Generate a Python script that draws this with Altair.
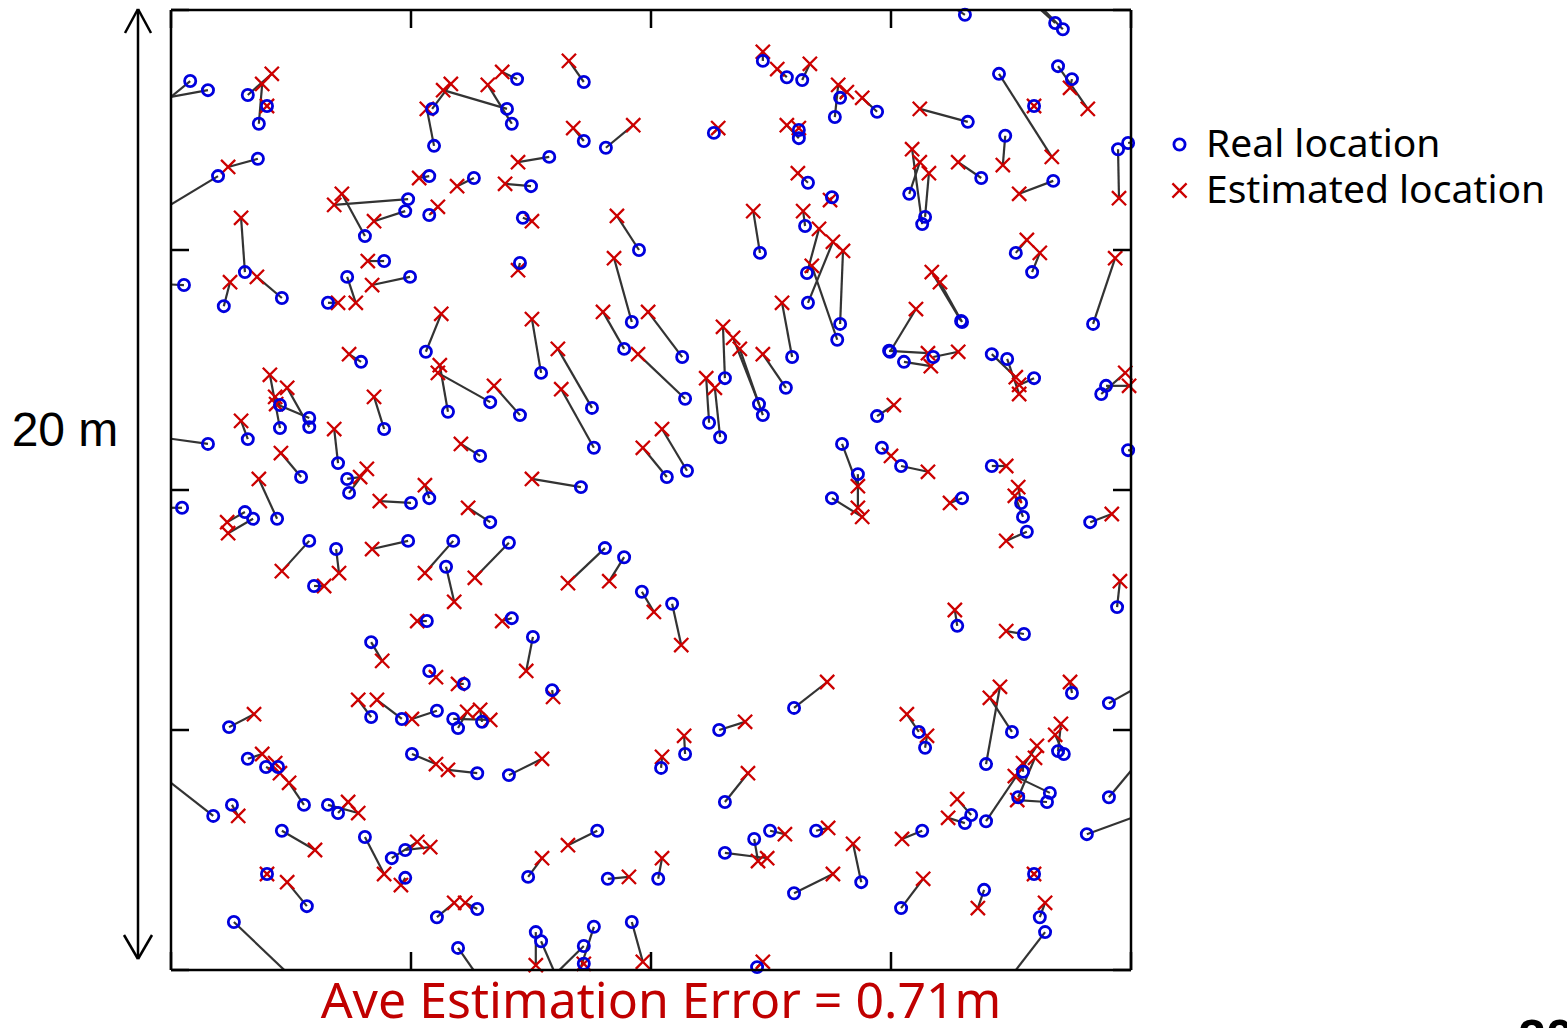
import altair as alt
import pandas as pd

# ---- data (metres, 20 m x 20 m area) ----
real_x = [0.40, 0.77, 1.60, 1.83, 2.00, 1.81, 0.98, 1.54, 1.10, 2.31,
          0.27, 4.94, 4.04, 4.88, 5.44, 5.48, 7.00, 7.10, 5.38, 6.31,
          5.38, 4.44, 3.67, 4.98, 3.27, 5.31, 7.21, 8.60, 8.60, 9.06,
          7.88, 7.50, 7.33, 7.27, 9.75, 9.60, 7.71, 9.44, 10.65, 11.31,
          12.33, 12.83, 13.15, 13.08, 13.08, 13.27, 13.21, 12.27, 16.54, 18.42,
          18.58, 18.48, 18.77, 17.25, 17.98, 16.60, 17.38, 16.88, 18.38, 19.73,
          19.94, 13.83, 13.94, 14.71, 15.65, 15.38, 15.71, 13.77, 13.25, 13.27,
          13.94, 13.88, 17.60, 17.94, 19.21, 16.46, 16.48, 14.98, 14.96, 15.27,
          15.88, 17.10, 17.42, 17.98, 19.38, 19.48, 14.71, 13.98, 14.31, 13.77,
          14.81, 15.21, 17.10, 17.71, 17.75, 17.83, 16.48, 19.15, 19.94, 19.71,
          16.38, 17.77, 0.77, 0.23, 3.96, 2.27, 2.88, 2.27, 2.88, 1.60,
          2.71, 2.21, 1.54, 1.71, 3.48, 4.44, 3.67, 3.71, 5.00, 5.38,
          5.77, 6.65, 7.27, 6.44, 6.65, 2.88, 3.44, 2.98, 4.94, 5.88,
          5.73, 7.04, 5.33, 4.17, 8.77, 8.81, 10.71, 8.54, 10.75, 10.33,
          11.54, 11.21, 11.44, 12.25, 12.33, 12.81, 12.94, 9.04, 9.44, 9.81,
          10.44, 7.10, 7.54, 5.38, 6.10, 4.17, 4.81, 5.54, 5.88, 5.98,
          6.48, 1.21, 1.60, 1.98, 2.23, 2.77, 0.88, 1.27, 2.31, 3.27,
          3.48, 5.02, 6.38, 4.04, 4.60, 4.88, 4.88, 2.00, 2.83, 1.31,
          5.54, 6.38, 5.98, 7.94, 7.04, 11.42, 10.71, 10.21, 11.54, 12.98,
          8.88, 7.44, 9.10, 10.15, 12.15, 11.54, 12.48, 13.44, 12.98, 7.60,
          7.71, 8.60, 8.81, 8.60, 9.60, 12.21, 15.58, 15.71, 17.52, 16.98,
          18.77, 19.54, 18.48, 18.60, 16.98, 17.75, 18.31, 18.25, 17.65, 16.67,
          16.54, 19.54, 19.08, 15.65, 14.38, 15.21, 17.98, 16.94, 18.10, 18.21]

real_y = [18.52, 18.33, 18.23, 17.63, 18.00, 16.90, 16.54, 14.54, 13.83, 14.00,
          14.27, 16.06, 15.29, 15.81, 17.94, 17.17, 17.94, 17.63, 16.54, 16.50,
          15.73, 14.77, 14.44, 14.44, 13.90, 12.88, 18.56, 18.50, 17.27, 17.13,
          16.94, 16.33, 15.67, 14.73, 15.00, 13.50, 12.44, 12.94, 12.77, 17.44,
          18.94, 18.60, 18.54, 17.50, 17.33, 16.40, 15.50, 14.94, 19.90, 19.73,
          19.60, 18.83, 18.56, 18.67, 18.00, 17.67, 17.38, 16.50, 16.44, 17.10,
          17.23, 17.77, 18.17, 17.88, 15.54, 16.17, 15.69, 16.10, 14.52, 13.90,
          13.46, 13.13, 14.94, 14.54, 13.46, 13.52, 13.50, 12.88, 12.90, 12.67,
          12.77, 12.83, 12.73, 12.33, 12.00, 12.17, 11.54, 10.96, 10.33, 9.83,
          10.88, 10.50, 10.50, 9.73, 9.44, 9.13, 9.83, 9.33, 10.83, 7.56,
          7.17, 7.00, 10.96, 9.63, 12.67, 11.29, 11.50, 11.77, 11.31, 11.06,
          10.27, 9.40, 9.54, 9.40, 10.56, 11.27, 10.23, 9.94, 9.73, 9.83,
          11.63, 11.83, 11.56, 10.71, 9.33, 8.94, 8.77, 8.00, 8.94, 8.94,
          8.40, 8.90, 7.27, 6.83, 11.71, 10.88, 11.90, 10.06, 10.40, 10.27,
          12.33, 11.40, 11.10, 11.79, 11.56, 12.13, 12.77, 8.79, 8.60, 7.88,
          7.63, 7.33, 6.94, 6.23, 5.96, 5.27, 5.23, 5.40, 5.23, 5.04,
          5.17, 5.06, 4.40, 4.23, 4.23, 3.44, 3.21, 3.44, 2.90, 3.44,
          3.27, 4.50, 4.10, 2.77, 2.33, 2.50, 1.92, 2.00, 1.33, 1.00,
          1.10, 1.27, 0.46, 5.83, 4.06, 5.00, 4.50, 4.21, 3.50, 5.46,
          2.90, 1.94, 1.90, 1.90, 2.73, 2.44, 2.90, 2.90, 1.60, 0.79,
          0.60, 0.50, 0.90, 0.13, 1.00, 0.06, 4.96, 4.63, 4.96, 4.29,
          5.77, 5.56, 4.56, 4.50, 3.10, 4.13, 3.69, 3.50, 3.60, 3.23,
          3.06, 3.60, 2.83, 2.90, 1.83, 1.29, 2.00, 1.67, 1.10, 0.79]

est_x = [-0.23, -0.23, 2.10, 1.90, 2.00, 1.19, -0.23, 1.46, 1.23, 1.79,
         -0.23, 3.40, 3.56, 4.23, 5.83, 5.33, 5.67, 6.60, 5.17, 5.96,
         5.56, 4.10, 3.85, 4.19, 3.48, 5.63, 6.90, 8.29, 8.38, 9.63,
         7.23, 6.96, 7.52, 7.23, 9.29, 9.23, 7.52, 9.00, 9.94, 11.40,
         12.33, 12.63, 13.31, 13.08, 12.83, 13.06, 13.17, 12.13, 16.13, 17.85,
         17.96, 19.10, 18.73, 18.35, 17.98, 15.60, 17.33, 16.40, 17.67, 19.75,
         20.23, 13.90, 14.08, 14.40, 15.44, 15.60, 15.79, 13.73, 13.50, 13.79,
         14.00, 13.35, 17.83, 18.10, 19.67, 15.85, 16.02, 15.52, 15.77, 15.83,
         16.40, 17.60, 17.67, 17.67, 19.88, 19.96, 15.06, 14.31, 14.31, 14.40,
         15.00, 15.77, 17.40, 17.65, 17.58, 17.40, 16.23, 19.60, 20.23, 19.77,
         16.33, 17.40, -0.23, -0.23, 3.71, 2.06, 2.19, 2.17, 2.42, 1.46,
         2.29, 1.83, 1.17, 1.19, 3.40, 4.23, 3.94, 4.08, 4.35, 5.29,
         5.60, 5.56, 6.73, 6.04, 6.19, 2.31, 3.50, 3.19, 4.19, 5.29,
         5.90, 6.33, 5.13, 4.40, 8.06, 8.13, 9.73, 7.52, 10.23, 9.83,
         11.50, 11.15, 11.33, 11.71, 11.85, 12.33, 12.73, 8.27, 9.13, 10.06,
         10.63, 6.90, 7.40, 5.52, 5.98, 3.90, 4.29, 5.02, 6.65, 6.17,
         6.44, 1.73, 1.90, 2.27, 2.17, 2.46, -0.23, 1.40, 3.00, 3.90,
         3.69, 5.52, 5.77, 4.44, 5.13, 5.40, 4.79, 2.00, 2.42, 2.58,
         5.90, 6.13, 6.42, 7.96, 7.73, 11.96, 10.69, 10.23, 12.02, 13.67,
         8.27, 7.73, 9.54, 10.23, 12.23, 12.42, 12.79, 13.69, 13.79, 7.60,
         8.06, 7.88, 8.44, 8.60, 9.83, 12.33, 15.33, 15.75, 17.06, 17.27,
         18.73, 20.29, 18.54, 18.42, 18.04, 17.75, 17.58, 17.63, 18.00, 16.38,
         16.19, 20.19, 20.29, 15.23, 14.21, 15.67, 17.98, 16.81, 18.21, 17.44]

est_y = [18.00, 18.15, 18.67, 18.46, 18.00, 16.73, 15.81, 15.67, 14.33, 14.44,
         14.29, 15.94, 16.17, 15.60, 18.46, 17.94, 18.33, 18.44, 16.50, 16.33,
         15.90, 14.77, 13.90, 14.27, 13.90, 13.67, 18.71, 18.94, 17.54, 17.60,
         16.83, 16.38, 15.60, 14.58, 15.71, 14.83, 13.56, 13.71, 13.71, 17.54,
         19.13, 18.77, 18.88, 17.54, 17.60, 16.60, 15.81, 15.81, 20.17, 20.25,
         20.23, 17.94, 18.38, 16.94, 18.00, 17.94, 16.77, 16.83, 16.17, 16.08,
         17.29, 18.44, 18.29, 18.17, 17.10, 16.83, 16.60, 16.04, 15.44, 15.17,
         14.98, 14.67, 15.21, 14.94, 14.83, 14.54, 14.33, 13.77, 12.85, 12.58,
         12.88, 12.35, 12.00, 12.19, 12.44, 12.17, 11.77, 10.08, 9.63, 9.44,
         10.71, 10.38, 10.50, 10.06, 9.88, 8.94, 9.73, 9.50, 10.79, 8.10,
         7.50, 7.06, 11.10, 9.63, 12.83, 12.40, 11.79, 11.94, 12.13, 11.44,
         10.77, 10.23, 9.33, 9.10, 11.27, 11.94, 10.27, 10.44, 9.77, 10.10,
         12.60, 12.44, 12.17, 10.96, 9.63, 8.31, 8.27, 8.00, 8.77, 8.27,
         7.67, 8.17, 7.27, 6.44, 12.94, 12.10, 12.83, 10.23, 11.27, 10.88,
         13.40, 12.33, 12.13, 13.17, 12.94, 12.83, 13.90, 8.06, 8.10, 7.46,
         6.77, 7.27, 6.23, 6.10, 5.96, 5.63, 5.63, 5.23, 5.21, 5.38,
         5.42, 5.33, 4.50, 4.10, 4.31, 3.90, 4.08, 3.21, 2.50, 3.27,
         3.50, 4.29, 4.17, 2.00, 2.67, 2.56, 1.77, 2.00, 1.83, -0.21,
         1.40, 1.40, -0.17, 5.69, 4.40, 5.17, 4.88, 4.44, 4.10, 6.00,
         2.60, 2.33, 1.94, 2.33, 2.27, 2.33, 2.83, 2.96, 2.00, 0.10,
         -0.21, -0.21, -0.25, 0.13, 0.17, 0.17, 5.33, 4.88, 5.67, 5.90,
         6.00, 5.98, 5.13, 4.90, 4.67, 4.31, 4.04, 3.54, 4.42, 3.56,
         3.17, 4.38, 3.27, 2.73, 2.63, 1.90, 2.00, 1.29, 1.40, -0.21]

AREA = [0, 20]
TICK_VALUES = [0, 5, 10, 15, 20]
TICK_LEN = 0.375
SERIES = ["Real location", "Estimated location"]
TITLE = "Ave Estimation Error = 0.71m"
SIDE_LABEL = "20 m"
PAGE_NO = "20"

BLUE = "#0000DD"
RED = "#CC0000"
X_SHAPE = "M-1,-1L1,1M-1,1L1,-1"

# ---- tables ----
pairs = pd.DataFrame({"rx": real_x, "ry": real_y, "ex": est_x, "ey": est_y})

est_df = pd.DataFrame({"x": est_x, "y": est_y, "type": SERIES[1]})
est_df = est_df[(est_df.x >= AREA[0]) & (est_df.x <= AREA[1]) &
                (est_df.y >= AREA[0]) & (est_df.y <= AREA[1])]
real_df = pd.DataFrame({"x": real_x, "y": real_y, "type": SERIES[0]})
pts = pd.concat([est_df, real_df], ignore_index=True)

lo, hi = AREA
tick_rows = []
for t in TICK_VALUES:
    tick_rows.append({"x": t, "x2": t, "y": lo, "y2": lo + TICK_LEN})
    tick_rows.append({"x": t, "x2": t, "y": hi, "y2": hi - TICK_LEN})
    tick_rows.append({"x": lo, "x2": lo + TICK_LEN, "y": t, "y2": t})
    tick_rows.append({"x": hi, "x2": hi - TICK_LEN, "y": t, "y2": t})
# frame of the area
tick_rows += [
    {"x": lo, "x2": hi, "y": lo, "y2": lo},
    {"x": lo, "x2": hi, "y": hi, "y2": hi},
    {"x": lo, "x2": lo, "y": lo, "y2": hi},
    {"x": hi, "x2": hi, "y": lo, "y2": hi},
]
ticks = pd.DataFrame(tick_rows)

xs = alt.Scale(domain=AREA, nice=False, zero=False)
ys = alt.Scale(domain=AREA, nice=False, zero=False)

links = alt.Chart(pairs).mark_rule(color="#333333", strokeWidth=2.2, clip=True).encode(
    x=alt.X("rx:Q", scale=xs, axis=None),
    y=alt.Y("ry:Q", scale=ys, axis=None),
    x2="ex:Q",
    y2="ey:Q",
)

legend = alt.Legend(
    orient="none", legendX=989, legendY=115, title=None,
    labelFontSize=39, labelFont="Noto Sans", labelColor="black", labelLimit=0,
    symbolSize=170, symbolStrokeWidth=1.8, labelOffset=7, rowPadding=6,
    padding=0,
)

points = alt.Chart(pts).mark_point(filled=False, opacity=1).encode(
    x=alt.X("x:Q", scale=xs, axis=None),
    y=alt.Y("y:Q", scale=ys, axis=None),
    color=alt.Color("type:N", scale=alt.Scale(domain=SERIES, range=[BLUE, RED]), legend=legend),
    shape=alt.Shape("type:N", scale=alt.Scale(domain=SERIES, range=["circle", X_SHAPE]), legend=legend),
    size=alt.Size("type:N", scale=alt.Scale(domain=SERIES, range=[125, 200]), legend=None),
    strokeWidth=alt.StrokeWidth("type:N", scale=alt.Scale(domain=SERIES, range=[2.8, 2.3]), legend=None),
)

tick_marks = alt.Chart(ticks).mark_rule(color="black", strokeWidth=2.5).encode(
    x=alt.X("x:Q", scale=xs, axis=None),
    x2="x2:Q",
    y=alt.Y("y:Q", scale=ys, axis=None),
    y2="y2:Q",
)

one = pd.DataFrame({"title": [TITLE], "side": [SIDE_LABEL], "page": [PAGE_NO]})
base1 = alt.Chart(one)

arrow_style = dict(color="black", strokeWidth=2.5)
arrow_shaft = base1.mark_rule(**arrow_style).encode(
    x=alt.value(-33), y=alt.value(-1), y2=alt.value(949))
arrow_parts = [arrow_shaft]
for (ax1, ay1, ax2, ay2) in [(-46, 23, -33, -1), (-20, 23, -33, -1),
                              (-47, 925, -33, 949), (-19, 925, -33, 949)]:
    arrow_parts.append(base1.mark_rule(**arrow_style).encode(
        x=alt.value(ax1), y=alt.value(ay1), x2=alt.value(ax2), y2=alt.value(ay2)))

side_text = base1.mark_text(font="Liberation Sans", fontSize=48, align="center",
                            baseline="middle", color="black").encode(
    x=alt.value(-106), y=alt.value(422), text="side:N")

title_text = base1.mark_text(font="Noto Sans", fontSize=50, align="center",
                             baseline="alphabetic", color="#C00000").encode(
    x=alt.value(490), y=alt.value(1008), text="title:N")

page_text = base1.mark_text(font="Liberation Sans", fontSize=50, fontWeight="bold",
                            align="left", baseline="alphabetic", color="black").encode(
    x=alt.value(1347), y=alt.value(1045), text="page:N")

chart = alt.layer(
    links, points, tick_marks, *arrow_parts, side_text, title_text, page_text
).properties(
    width=960, height=960,
    autosize=alt.AutoSizeParams(type="none"),
    padding={"left": 171, "top": 10, "right": 436, "bottom": 58},
).configure_view(
    stroke=None
).configure(background="white")

chart.save("out.html", embed_options={"renderer": "svg", "actions": False})
